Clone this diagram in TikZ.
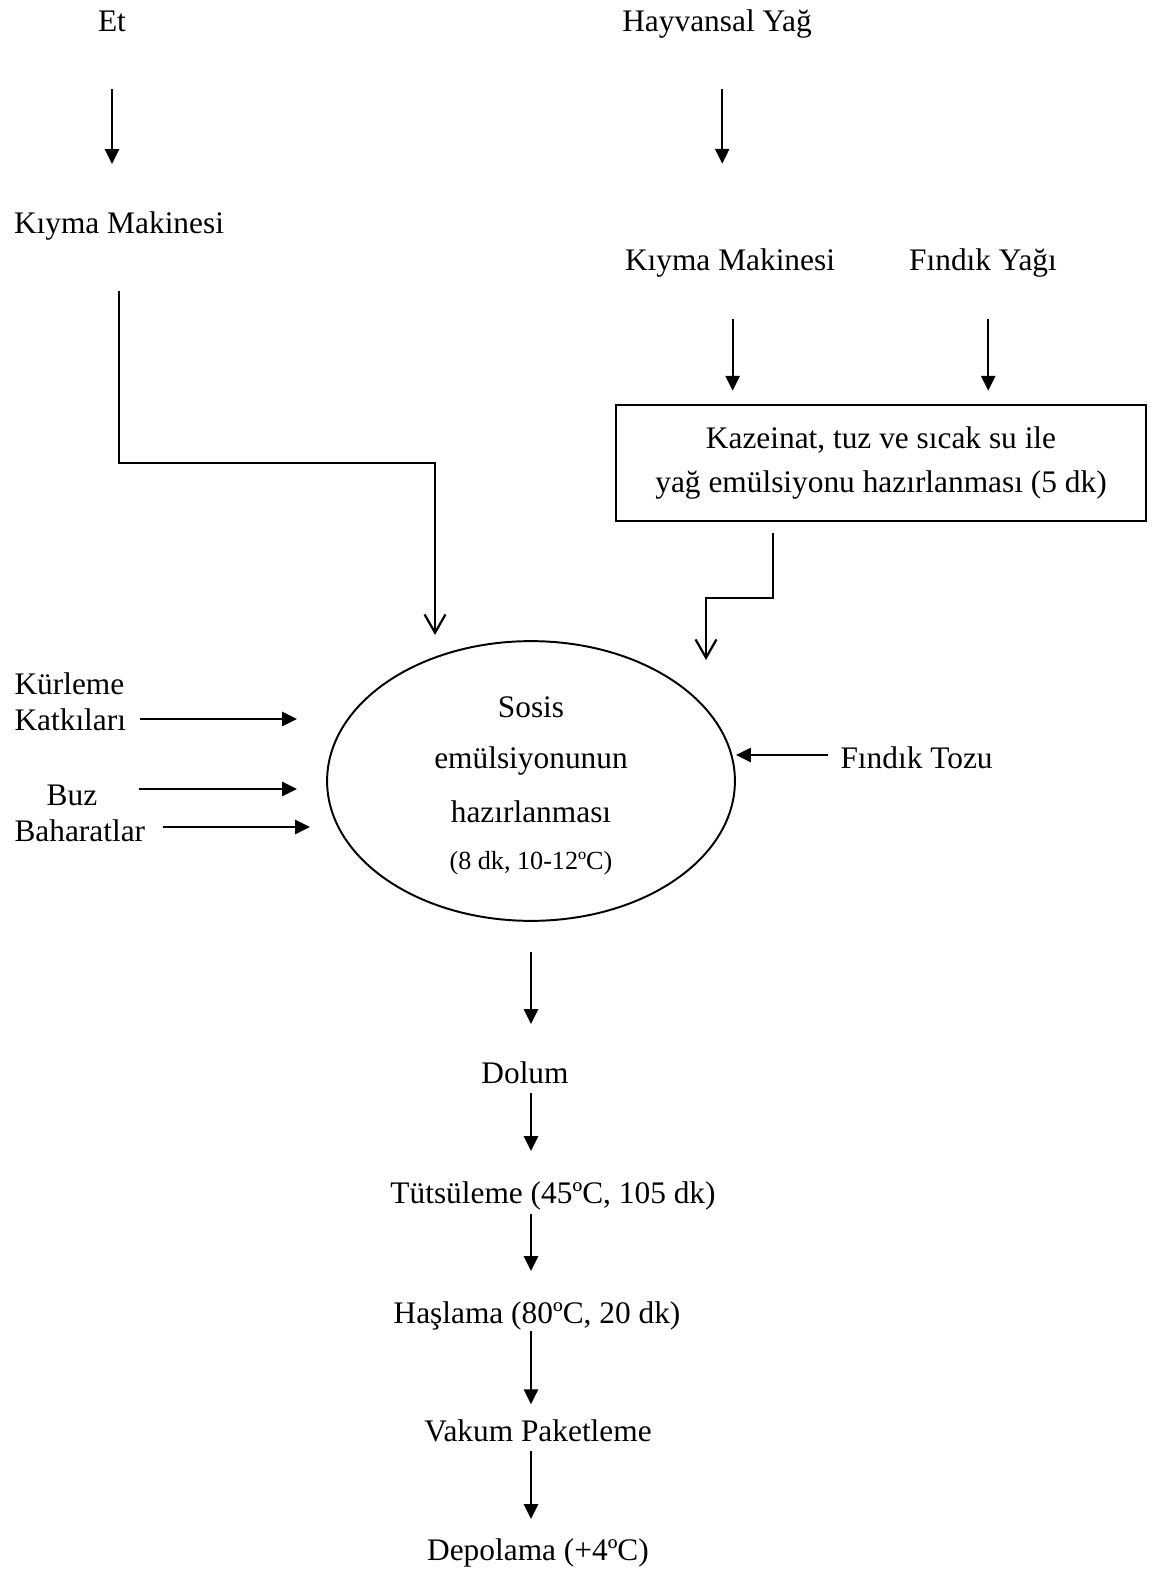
\documentclass[tikz,border=0pt]{standalone}
\usepackage{fontspec}
\setmainfont{Liberation Serif}
\usepackage{tikz}
\usetikzlibrary{arrows.meta,shapes.geometric}

\begin{document}
\begin{tikzpicture}[
  x=0.3825pt, y=-0.3825pt,
  font=\fontsize{12pt}{13.8pt}\selectfont,
  lbl/.style={inner sep=0pt,text height=10.5pt,text depth=0.5pt},
  stepbox/.style={rectangle,draw,line width=0.8pt,align=center,minimum width=202.7pt,minimum height=44.4pt},
  mixer/.style={ellipse,draw,line width=0.75pt,inner sep=0pt,minimum width=156pt,minimum height=107pt},
  arr/.style={line width=0.85pt,-{Triangle[length=5.7pt,width=5.4pt]}},
  oarr/.style={line width=0.85pt,-{Straight Barb[length=7pt,width=8pt]}}
]
\useasboundingbox (0,0) rectangle (1174,1580);
% raw materials
\node[lbl] (et) at (112,18) {Et};
\node[lbl] (hay) at (717,18) {Hayvansal Yağ};
\node[lbl] (kiyL) at (119,220) {Kıyma Makinesi};
\node[lbl] (kiyR) at (730,257) {Kıyma Makinesi};
\node[lbl] (fyag) at (983,257) {Fındık Yağı};
\node[stepbox] (emul) at (881,463) {Kazeinat, tuz ve sıcak su ile\\[3pt]yağ emülsiyonu hazırlanması (5 dk)};
% sausage emulsion
\node[mixer] (sosis) at (531,781) {};
\node[align=center,inner sep=0pt] (sosisTxt) at (531,786) {Sosis\\[5.7pt]emülsiyonunun\\[6.8pt]hazırlanması\\[4.4pt]{\fontsize{10pt}{12pt}\selectfont (8 dk, 10-12ºC)}};
\node[align=left,anchor=west,inner sep=0pt] (kurleme) at (14,702) {Kürleme\\Katkıları};
\node[lbl] (buz) at (72,792) {Buz};
\node[lbl,anchor=west] (bahar) at (14,828) {Baharatlar};
\node[lbl,anchor=west] (ftoz) at (840,755) {Fındık Tozu};
% process steps
\node[lbl] (dolum) at (525,1070) {Dolum};
\node[lbl] (tuts) at (553,1190) {Tütsüleme (45ºC, 105 dk)};
\node[lbl] (hasl) at (537,1310) {Haşlama (80ºC, 20 dk)};
\node[lbl] (vakum) at (538,1428) {Vakum Paketleme};
\node[lbl] (depo) at (538,1547) {Depolama (+4ºC)};

\coordinate (kurT) at (297,719);
\coordinate (buzT) at (297,789);
\coordinate (baharT) at (310,827);
\coordinate (bendL) at (435,463);
\coordinate (bendR) at (773,598);
\coordinate (dropR) at (706,660);

\draw[arr,shorten <=21.4pt,shorten >=15.7pt] (et.south) -- (et.south |- kiyL.north);
\draw[arr,shorten <=21.4pt,shorten >=30pt] ([xshift=2pt]hay.south) -- ([xshift=2pt]hay.south |- kiyR.north);
\draw[arr,shorten <=18pt,shorten >=5pt] ([xshift=1pt]kiyR.south) -- ([xshift=1pt]kiyR.south |- emul.north);
\draw[arr,shorten <=18pt,shorten >=5pt] ([xshift=2pt]fyag.south) -- ([xshift=2pt]fyag.south |- emul.north);
\draw[oarr,shorten <=21.4pt,shorten >=2pt] (kiyL.south) |- (bendL) -- (bendL |- sosis.north);
\draw[oarr,shorten <=4pt] (emul.south -| bendR) -- (bendR) -| (dropR);
\draw[arr,shorten <=5pt] (kurleme.east |- kurT) -- (kurT);
\draw[arr,shorten <=15.7pt] (buz.east |- buzT) -- (buzT);
\draw[arr,shorten <=6.5pt] (bahar.east |- baharT) -- (baharT);
\draw[arr,shorten <=4.5pt] (ftoz.west) -- (ftoz.west -| sosis.east);
\draw[arr,shorten <=11.5pt,shorten >=11.9pt] (sosis.south) -- (sosis.south |- dolum.north);
\draw[arr,shorten <=3pt,shorten >=9.2pt] (dolum.south -| sosis) -- (tuts.north -| sosis);
\draw[arr,shorten <=3.4pt,shorten >=9.2pt] (tuts.south -| sosis) -- (hasl.north -| sosis);
\draw[arr,shorten <=2.3pt,shorten >=3.4pt] (hasl.south -| sosis) -- (vakum.north -| sosis);
\draw[arr,shorten <=3pt,shorten >=5pt] (vakum.south -| sosis) -- (depo.north -| sosis);
\end{tikzpicture}
\end{document}
